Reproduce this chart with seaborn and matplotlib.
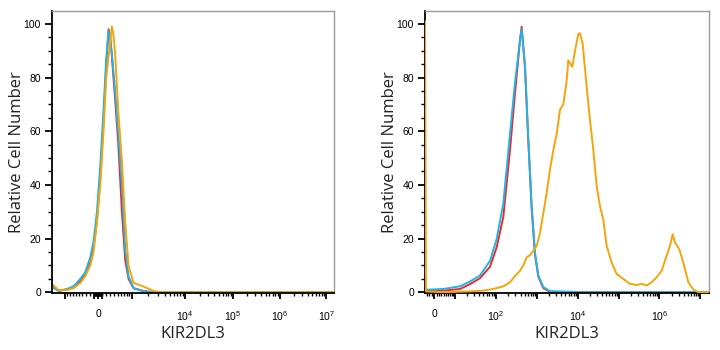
import numpy as np
import matplotlib
matplotlib.use("Agg")
import matplotlib.pyplot as plt
import seaborn as sns
from matplotlib.ticker import FixedLocator, FixedFormatter

# ---------------- data (fluorescence bins, % of max) ----------------
left_x = [-1695, -1294, -905, -668, -457, -323, -196, -114, -32, 49, 129, 196, 255, 298,
          341, 384, 430, 523, 633, 744, 867, 1077, 1600, 2450, 3290,
          1e4, 1e5, 1e6, 1e7, 1.45e7]
left_red = [2, 0.5, 1, 2, 4, 6.5, 11, 17, 27, 43, 64, 84, 98, 95, 88, 80, 72, 55, 30, 12,
            5, 1.5, 0.5, 0, 0, 0, 0, 0, 0, 0]
left_cyan = [2, 0.5, 1.2, 2.2, 5, 7.5, 13, 19, 30, 47, 68, 87, 97.5, 94, 89, 82, 75, 59, 40,
             16, 6, 1.5, 0.3, 0, 0, 0, 0, 0, 0, 0]
left_orange = [3, 0.8, 0.8, 1.5, 3.5, 6, 10, 15, 26, 40, 60, 80, 88, 93, 99, 96, 89, 67, 49,
               26, 10, 3.5, 2.2, 0.5, 0, 0, 0, 0, 0, 0]

right_x_ctrl = [-3.72, 3.86, 13.7, 24.2, 41.9, 72.8, 105, 152, 221, 292, 387, 425, 512, 618,
                746, 898, 1084, 1438, 2092, 3674, 6462, 1e4, 1e5, 1e6, 1e7, 1.65e7]
right_red = [0.5, 0.6, 1.2, 3, 5.2, 9.5, 16.7, 28, 53, 74, 94, 98.9, 84, 56, 31, 14, 5.8,
             1.5, 0.2, 0, 0, 0, 0, 0, 0, 0]
right_cyan = [0.9, 1.2, 2.2, 4, 6.2, 11.7, 19.8, 33, 59, 78, 94, 98, 84, 57, 32, 14.8, 6.2,
              1.9, 0.4, 0.3, 0.2, 0, 0, 0, 0, 0]

right_x_stain = [-3.7, -3.28, 3.86, 24.2, 50.4, 87.4, 152, 221, 292, 387, 467, 562, 679, 819,
                 987, 1192, 1438, 1733, 2092, 2527, 3051, 3674, 4440, 5361, 5880, 6720, 7368,
                 8577, 10356, 11355, 13220, 16565, 20005, 24107, 29117, 35168, 42377, 51185,
                 67940, 89980, 131255, 191040, 278050, 369090, 488790, 648810, 861230,
                 1140570, 1513980, 1824390, 2123850, 2421700, 3091000, 3874000, 5142000,
                 6810000, 9040000, 1.65e7]
right_orange = [101, 0.3, 0, 0.3, 0.6, 1.2, 2.2, 3.7, 6, 8, 10, 13, 13.8, 15.4, 17.3, 22,
                29.6, 37, 45.7, 53, 59, 68, 70, 79, 86.4, 85, 84, 90, 96.3, 96.5, 92.6, 76.5,
                64, 53, 39.5, 32, 27, 17.3, 11, 6.8, 4.9, 3.1, 2.7, 3.1, 2.5, 3.7, 5.6, 8,
                13.6, 17.3, 21.6, 18.5, 16, 11, 3.7, 1, 0, 0]

y_ticks = [0, 20, 40, 60, 80, 100]
left_major = [-1000, -100, 0, 100, 1000, 1e4, 1e5, 1e6, 1e7]
left_labels = ["", "", "0", "", "", "10$^{4}$", "10$^{5}$", "10$^{6}$", "10$^{7}$"]
right_major = [0, 10, 100, 1e3, 1e4, 1e5, 1e6, 1e7]
right_labels = ["0", "", "10$^{2}$", "", "10$^{4}$", "", "10$^{6}$", ""]

RED, CYAN, ORANGE = "#f0282a", "#1eb6e8", "#f5a40c"

# ---------------- style ----------------
sns.set_style("white")
plt.rcParams["mathtext.fontset"] = "custom"
plt.rcParams["mathtext.rm"] = "Liberation Sans"
plt.rcParams["mathtext.default"] = "regular"
plt.rcParams["font.family"] = ["Liberation Sans", "DejaVu Sans"]


def logicle(C, p):
    u = np.linspace(-9, 9, 60001)
    au = np.abs(u)
    s = np.sign(u) * C * (10 ** au - p ** 2 * 10 ** (-au / p) + p ** 2 - 1)

    def fwd(x):
        return np.interp(np.asarray(x, dtype=float), s, u)

    def inv(v):
        return np.interp(np.asarray(v, dtype=float), u, s)
    return fwd, inv


def minor_ticks(lo, hi, kmin, kmax):
    out = []
    for k in range(kmin, kmax + 1):
        for m in range(1, 10):
            for sgn in (1, -1):
                v = sgn * m * 10 ** k
                if lo < v < hi:
                    out.append(v)
    return sorted(out)


fig = plt.figure(figsize=(7.2, 3.5), dpi=100)
ax1 = fig.add_axes([52 / 720, 57 / 350, 282 / 720, 282 / 350])
ax2 = fig.add_axes([425 / 720, 57 / 350, 284 / 720, 282 / 350])

lw = 1.4
sns.lineplot(x=left_x, y=left_red, ax=ax1, color=RED, lw=lw, sort=False, estimator=None)
sns.lineplot(x=left_x, y=left_cyan, ax=ax1, color=CYAN, lw=lw, sort=False, estimator=None)
sns.lineplot(x=left_x, y=left_orange, ax=ax1, color=ORANGE, lw=lw, sort=False, estimator=None)

sns.lineplot(x=right_x_ctrl, y=right_red, ax=ax2, color=RED, lw=lw, sort=False, estimator=None)
sns.lineplot(x=right_x_ctrl, y=right_cyan, ax=ax2, color=CYAN, lw=lw, sort=False, estimator=None)
sns.lineplot(x=right_x_stain, y=right_orange, ax=ax2, color=ORANGE, lw=lw, sort=False,
             estimator=None, zorder=3)

configs = [
    (ax1, logicle(128, 2.85), (-1700, 1.45e7), left_major, left_labels, (1, 6)),
    (ax2, logicle(3.0, 1.36), (-3.72, 1.65e7), right_major, right_labels, (0, 6)),
]
for ax, (fwd, inv), xl, maj, labs, (kmin, kmax) in configs:
    ax.set_xscale("function", functions=(fwd, inv))
    ax.set_xlim(*xl)
    ax.set_ylim(-0.3, 104.8)
    ax.xaxis.set_major_locator(FixedLocator(maj))
    ax.xaxis.set_major_formatter(FixedFormatter(labs))
    ax.xaxis.set_minor_locator(FixedLocator(
        [v for v in minor_ticks(xl[0], xl[1], kmin, kmax) if v not in maj]))
    ax.yaxis.set_major_locator(FixedLocator(y_ticks))
    ax.yaxis.set_minor_locator(FixedLocator(list(range(5, 100, 5))))
    ax.tick_params(axis="x", which="major", direction="out", length=4.5, width=1.3,
                   pad=7, labelsize=7.5, colors="black")
    ax.tick_params(axis="x", which="minor", direction="out", length=2.2, width=1.0,
                   colors="black")
    ax.tick_params(axis="y", which="major", direction="out", length=5, width=1.3,
                   pad=3, labelsize=7.5, colors="black")
    ax.tick_params(axis="y", which="minor", direction="out", length=3, width=1.0,
                   colors="black")
    ax.tick_params(bottom=True, left=True, which="both")
    for side in ("left", "bottom"):
        ax.spines[side].set_color("black")
        ax.spines[side].set_linewidth(1.3)
    for side in ("top", "right"):
        ax.spines[side].set_color("#9a9a9a")
        ax.spines[side].set_linewidth(1.0)
    ax.set_xlabel("KIR2DL3", fontfamily=["Open Sans", "DejaVu Sans"], fontsize=12,
                  color="#222222")
    ax.set_ylabel("Relative Cell Number", fontfamily=["Open Sans", "DejaVu Sans"],
                  fontsize=12, color="#222222")
    ax.xaxis.set_label_coords(0.5, -0.118)
    ax.yaxis.set_label_coords(-0.096, 0.5)
    ax.set_facecolor("white")

fig.savefig("out.png", dpi=100)
